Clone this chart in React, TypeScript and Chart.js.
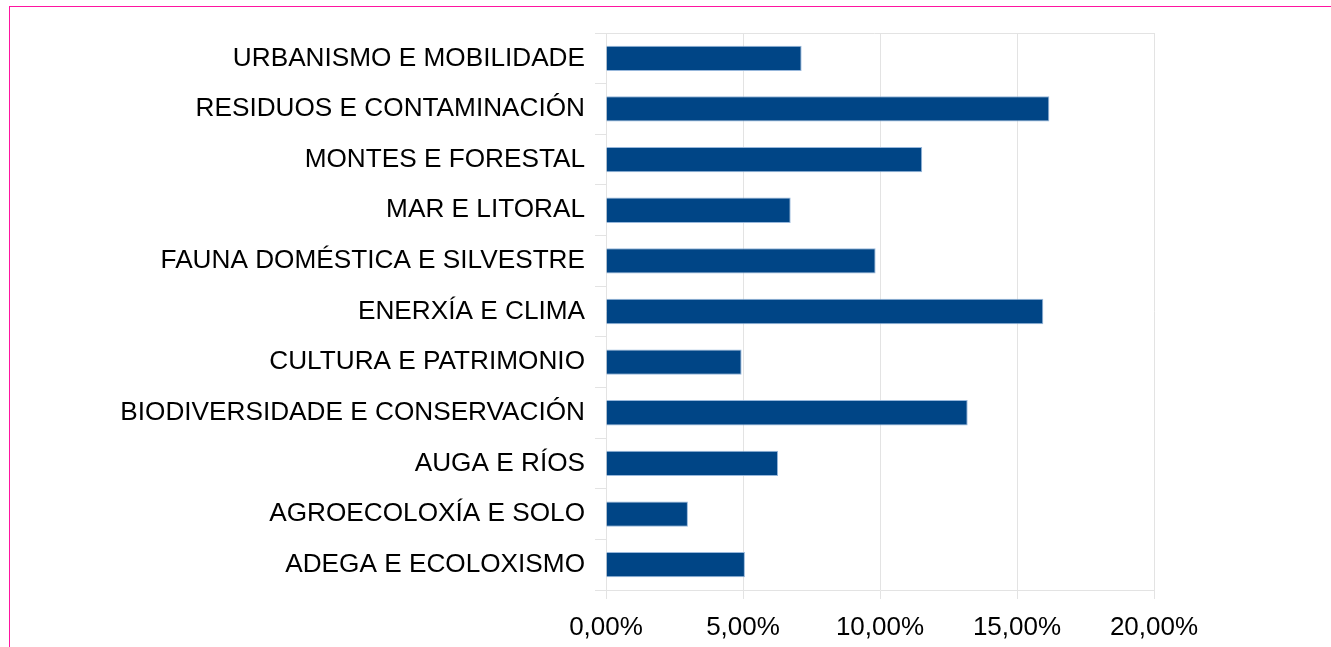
import React, { useEffect, useRef } from "react";
import { Chart, registerables } from "chart.js";

Chart.register(...registerables);

const categories = [
  "URBANISMO E MOBILIDADE",
  "RESIDUOS E CONTAMINACIÓN",
  "MONTES E FORESTAL",
  "MAR E LITORAL",
  "FAUNA DOMÉSTICA E SILVESTRE",
  "ENERXÍA E CLIMA",
  "CULTURA E PATRIMONIO",
  "BIODIVERSIDADE E CONSERVACIÓN",
  "AUGA E RÍOS",
  "AGROECOLOXÍA E SOLO",
  "ADEGA E ECOLOXISMO",
];

const shares = [7.14, 16.18, 11.54, 6.74, 9.84, 15.96, 4.95, 13.2, 6.28, 2.99, 5.07];

const xTicks = [0, 5, 10, 15, 20];

const BAR = "#004586";
const GRID = "#e3e3e3";
const FONT = "'Liberation Sans', Arial, sans-serif";

const topLine = {
  id: "topLine",
  beforeDatasetsDraw(chart: any) {
    const { ctx, chartArea } = chart;
    ctx.save();
    ctx.strokeStyle = GRID;
    ctx.lineWidth = 1;
    ctx.beginPath();
    ctx.moveTo(chartArea.left - 11, Math.round(chartArea.top) + 0.5);
    ctx.lineTo(chartArea.right, Math.round(chartArea.top) + 0.5);
    ctx.stroke();
    ctx.restore();
  },
};

export default function App() {
  const ref = useRef<HTMLCanvasElement | null>(null);

  useEffect(() => {
    if (!ref.current) return;
    const chart = new Chart(ref.current, {
      type: "bar",
      data: {
        labels: categories,
        datasets: [
          {
            data: shares,
            backgroundColor: BAR,
            borderColor: "rgba(140,175,215,0.9)",
            borderWidth: 1,
            barPercentage: 0.5,
            categoryPercentage: 1,
          },
        ],
      },
      options: {
        indexAxis: "y",
        animation: false,
        responsive: false,
        devicePixelRatio: 1,
        layout: { padding: { top: 33, right: 177, left: 0, bottom: 0 } },
        plugins: { legend: { display: false }, tooltip: { enabled: false } },
        scales: {
          x: {
            min: 0,
            max: 20,
            afterBuildTicks: (scale: any) => {
              scale.ticks = xTicks.map((v) => ({ value: v }));
            },
            afterFit: (scale: any) => {
              scale.height = 57;
            },
            grid: { color: GRID, tickLength: 9, drawTicks: true },
            border: { display: true, color: GRID },
            ticks: {
              color: "#000",
              font: { family: FONT, size: 26 },
              padding: 13,
              maxRotation: 0,
              callback: (v: any) => Number(v).toFixed(2).replace(".", ",") + "%",
            },
          },
          y: {
            afterFit: (scale: any) => {
              scale.width = 606;
            },
            grid: { color: GRID, drawOnChartArea: false, tickLength: 11, offset: true },
            border: { display: false },
            ticks: {
              color: "#000",
              font: { family: FONT, size: 26.2 },
              padding: 10,
            },
          },
        },
      },
      plugins: [topLine],
    });
    return () => chart.destroy();
  }, []);

  return (
    <div style={{ position: "fixed", left: 0, top: 0, width: 1331, height: 647, background: "#fff" }}>
      <canvas ref={ref} width={1331} height={647} style={{ position: "absolute", left: 0, top: 0 }} />
      <div
        style={{
          position: "absolute",
          left: 9,
          top: 6,
          right: 0,
          bottom: 0,
          borderTop: "1px solid #ff14a0",
          borderLeft: "1px solid #ff14a0",
          pointerEvents: "none",
        }}
      />
    </div>
  );
}
